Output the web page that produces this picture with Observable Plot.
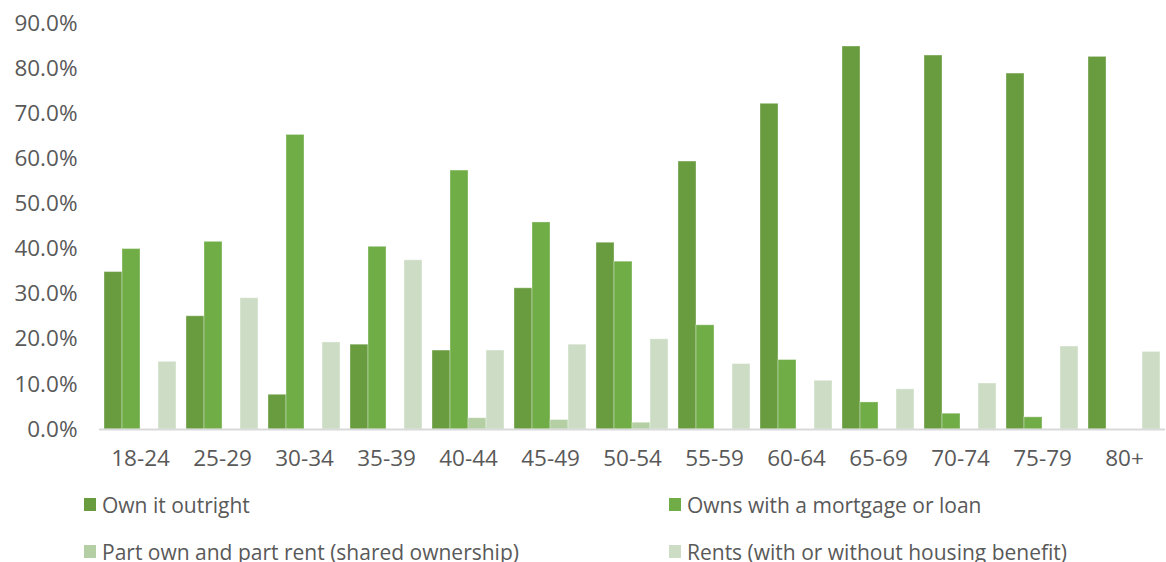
<!DOCTYPE html>
<html>
<head>
<meta charset="utf-8">
<script src="https://cdn.jsdelivr.net/npm/d3@7"></script>
<script src="https://cdn.jsdelivr.net/npm/@observablehq/plot@0.6"></script>
<style>
  html, body { margin: 0; padding: 0; background: #fff; }
  #chart { width: 1166px; }
  .legend {
    display: grid;
    grid-template-columns: 585px auto;
    grid-auto-rows: 47px;
    padding: 3px 0 0 84px;
    font-family: "Open Sans", sans-serif;
    font-size: 21px;
    color: #595959;
  }
  .legend .item { display: flex; align-items: center; white-space: nowrap; }
  .legend .sw { width: 12px; height: 13px; margin-right: 6px; flex: none; }
</style>
</head>
<body>
<div id="chart"></div>
<script>
// Age bands
const ages = ["18-24", "25-29", "30-34", "35-39", "40-44", "45-49", "50-54",
              "55-59", "60-64", "65-69", "70-74", "75-79", "80+"];

// Tenure shares by age band (%), null where no value is shown
const ownOutright = [34.9, 25.1, 7.7, 18.8, 17.5, 31.3, 41.4, 59.4, 72.2, 84.9, 82.9, 78.9, 82.6];
const ownsMortgage = [40.0, 41.6, 65.3, 40.5, 57.4, 45.9, 37.2, 23.1, 15.4, 6.0, 3.5, 2.7, null];
const partOwn = [null, null, null, null, 2.5, 2.1, 1.5, null, null, null, null, null, null];
const rents = [15.0, 29.1, 19.3, 37.5, 17.5, 18.8, 20.0, 14.5, 10.8, 8.9, 10.2, 18.4, 17.2];

const seriesNames = [
  "Own it outright",
  "Owns with a mortgage or loan",
  "Part own and part rent (shared ownership)",
  "Rents (with or without housing benefit)"
];
const seriesColors = ["#699c3f", "#70ad47", "#b5cfa4", "#cdddc5"];

// y-axis ticks (percent)
const yTicks = [0, 10, 20, 30, 40, 50, 60, 70, 80, 90];

// Long-format table for the grouped bars
const seriesValues = [ownOutright, ownsMortgage, partOwn, rents];
const rows = [];
ages.forEach((age, i) => {
  seriesValues.forEach((vals, s) => {
    if (vals[i] != null) rows.push({age, series: seriesNames[s], value: vals[i]});
  });
});

const chart = Plot.plot({
  width: 1166,
  height: 478,
  marginTop: 23,
  marginBottom: 49,
  marginLeft: 97,
  marginRight: 0,
  style: {fontFamily: "Open Sans, sans-serif", fontSize: "22.5px", color: "#595959", background: "#fff"},
  fx: {domain: ages, padding: 0, label: null},
  x: {domain: seriesNames, paddingInner: 0, paddingOuter: 0.2, axis: null},
  y: {domain: [0, 90], label: null},
  color: {domain: seriesNames, range: seriesColors},
  marks: [
    Plot.barY(rows, {
      fx: "age",
      x: "series",
      y: "value",
      fill: "series",
      stroke: "#ffffff",
      strokeOpacity: 0.35,
      strokeWidth: 1
    }),
    Plot.ruleY([0], {stroke: "#d9d9d9", strokeWidth: 2}),
    Plot.axisY({
      ticks: yTicks,
      tickSize: 0,
      tickPadding: 22,
      tickFormat: d => d.toFixed(1) + "%",
      label: null
    }),
    Plot.axisFx({
      anchor: "bottom",
      tickSize: 0,
      tickPadding: 21,
      label: null
    })
  ]
});
document.getElementById("chart").appendChild(chart);

// Legend below the chart
const legend = document.createElement("div");
legend.className = "legend";
seriesNames.forEach((name, i) => {
  const item = document.createElement("div");
  item.className = "item";
  const sw = document.createElement("span");
  sw.className = "sw";
  sw.style.background = seriesColors[i];
  const label = document.createElement("span");
  label.textContent = name;
  item.appendChild(sw);
  item.appendChild(label);
  legend.appendChild(item);
});
document.body.appendChild(legend);
</script>
</body>
</html>
